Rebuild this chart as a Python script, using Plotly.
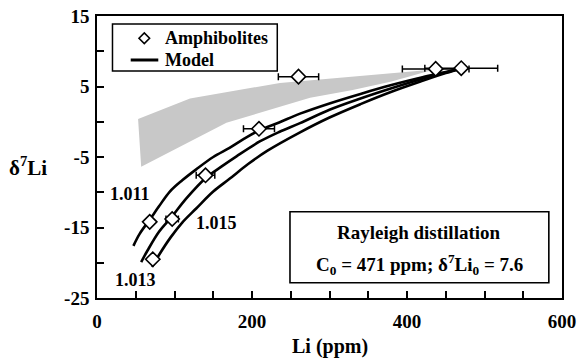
import plotly.graph_objects as go

# ---- data ----
sample_li = [470, 437, 260, 209, 140, 97, 68, 72]
sample_d7li = [7.6, 7.5, 6.4, -1.0, -7.6, -13.8, -14.2, -19.5]
sample_li_err = [47, 43, 26, 20, 12, 8, 0, 0]

model_1011_li = [47, 55, 68, 80, 94, 110, 128, 150, 171, 190, 209, 235, 262, 300, 340, 380, 420, 450, 471]
model_1011_d = [-17.6, -15.9, -13.9, -12.0, -9.9, -8.3, -6.75, -5.0, -3.7, -2.4, -1.25, -0.1, 1.15, 2.6, 3.95, 5.2, 6.3, 7.05, 7.6]

model_1013_li = [57, 65, 80, 97, 115, 140, 160, 180, 210, 235, 262, 300, 340, 380, 420, 450, 471]
model_1013_d = [-19.9, -18.3, -15.6, -13.4, -10.9, -8.0, -6.4, -4.9, -2.8, -1.45, -0.2, 1.7, 3.3, 4.75, 6.1, 7.0, 7.6]

model_1015_li = [71, 80, 95, 110, 128, 150, 171, 195, 220, 262, 300, 340, 380, 420, 450, 471]
model_1015_d = [-20.6, -18.9, -16.4, -14.3, -12.3, -9.9, -8.1, -6.0, -4.1, -1.5, 0.6, 2.5, 4.25, 5.8, 6.9, 7.6]

band_li = [53, 120, 236, 330, 400, 435, 435, 380, 330, 275, 210, 167, 57]
band_d7li = [0.4, 3.3, 5.5, 6.4, 7.0, 7.4, 7.4, 5.7, 4.5, 3.4, 1.3, -0.15, -6.4]

x_major_ticks = [0, 200, 400, 600]
x_major_text = ["0", "200", "400", "600"]
x_minor_ticks = [50, 100, 150, 250, 300, 350, 450, 500, 550]
y_major_ticks = [-25, -15, -5, 5, 15]
y_major_text = ["-25", "-15", "-5", "5", "15"]
y_minor_ticks = [-20, -10, 0, 10]

curve_labels = ["1.011", "1.013", "1.015"]
curve_label_li = [42, 50, 154]
curve_label_d = [-10.3, -22.5, -14.4]

legend_names = ["Amphibolites", "Model"]

FONT = "Liberation Serif"

fig = go.Figure()

fig.add_trace(go.Scatter(
    x=band_li, y=band_d7li, mode="lines", fill="toself",
    fillcolor="#c8c8c8", line=dict(width=0, color="#c8c8c8"),
    hoverinfo="skip"))

for xs, ys in [(model_1011_li, model_1011_d), (model_1013_li, model_1013_d), (model_1015_li, model_1015_d)]:
    fig.add_trace(go.Scatter(
        x=xs, y=ys, mode="lines", name=legend_names[1],
        line=dict(color="black", width=2.6, shape="spline")))

fig.add_trace(go.Scatter(
    x=sample_li, y=sample_d7li, mode="markers", name=legend_names[0],
    marker=dict(symbol="diamond", size=11, color="white", line=dict(color="black", width=1.6)),
    error_x=dict(type="data", array=sample_li_err, color="black", thickness=1.5, width=3.5)))

for t, x, y in zip(curve_labels, curve_label_li, curve_label_d):
    fig.add_annotation(x=x, y=y, text=t, showarrow=False,
                       font=dict(family=FONT, size=18, color="black", weight="bold"))

# ---- legend box (drawn by hand to match the reference's compact box) ----
lx0, lx1, ly0, ly1 = 0.0333, 0.3877, 0.805, 0.9716
fig.add_shape(type="rect", xref="paper", yref="paper", x0=lx0, x1=lx1, y0=ly0, y1=ly1,
              line=dict(color="black", width=1.5), fillcolor="white", layer="above")
kx, ky1, ky2, dx, dy = 0.1017, 0.9209, 0.844, 0.0114, 0.0189
fig.add_shape(type="path", xref="paper", yref="paper",
              path=f"M {kx-dx},{ky1} L {kx},{ky1+dy} L {kx+dx},{ky1} L {kx},{ky1-dy} Z",
              line=dict(color="black", width=1.6), fillcolor="white", layer="above")
fig.add_shape(type="line", xref="paper", yref="paper", x0=0.0725, x1=0.1318, y0=ky2, y1=ky2,
              line=dict(color="black", width=3), layer="above")
for name, yy in zip(legend_names, [ky1, ky2]):
    fig.add_annotation(xref="paper", yref="paper", x=0.1413, y=yy, text=name,
                       xanchor="left", yanchor="middle", showarrow=False,
                       font=dict(family=FONT, size=18, color="black", weight="bold"))

# ---- Rayleigh box ----
fig.add_shape(type="rect", x0=249, x1=583, y0=-22.84, y1=-12.77,
              line=dict(color="black", width=1.6), fillcolor="white", layer="above")
fig.add_annotation(x=415.8, y=-15.75, text="Rayleigh distillation", showarrow=False,
                   font=dict(family=FONT, size=19, color="black", weight="bold"))
fig.add_annotation(x=415.8, y=-20.25, text="C<sub>0</sub> = 471 ppm; δ<sup>7</sup>Li<sub>0</sub> = 7.6",
                   showarrow=False, font=dict(family=FONT, size=19, color="black", weight="bold"))

# ---- axis titles ----
fig.add_annotation(xref="paper", yref="paper", x=0.5, y=-0.172, text="Li (ppm)",
                   xanchor="center", yanchor="middle", showarrow=False,
                   font=dict(family=FONT, size=20, color="black", weight="bold"))
fig.add_annotation(xref="paper", yref="paper", x=-0.148, y=0.466, text="δ<sup>7</sup>Li",
                   xanchor="center", yanchor="middle", showarrow=False,
                   font=dict(family=FONT, size=21, color="black", weight="bold"))

axis_common = dict(showgrid=False, zeroline=False, showline=True, linecolor="black",
                   linewidth=1.6, mirror=True, ticks="inside", ticklen=7, tickwidth=1.5,
                   tickcolor="black", automargin=False,
                   tickfont=dict(family=FONT, size=19, color="black", weight="bold"))

fig.update_xaxes(range=[0, 600], tickmode="array", tickvals=x_major_ticks, ticktext=x_major_text,
                 ticklabelstandoff=5,
                 minor=dict(tickmode="array", tickvals=x_minor_ticks, ticks="inside",
                            ticklen=7, tickwidth=1.5, tickcolor="black", showgrid=False),
                 **axis_common)
fig.update_yaxes(range=[-25, 15], tickmode="array", tickvals=y_major_ticks, ticktext=y_major_text,
                 ticklabelstandoff=2,
                 minor=dict(tickmode="array", tickvals=y_minor_ticks, ticks="inside",
                            ticklen=7, tickwidth=1.5, tickcolor="black", showgrid=False),
                 **axis_common)

fig.update_layout(
    width=580, height=358,
    margin=dict(l=97, r=18, t=16, b=60),
    plot_bgcolor="white", paper_bgcolor="white",
    showlegend=False,
)

fig.write_html("out.html", config={"displayModeBar": False},
               post_script="document.body.style.margin='0';document.body.style.overflow='hidden';")
